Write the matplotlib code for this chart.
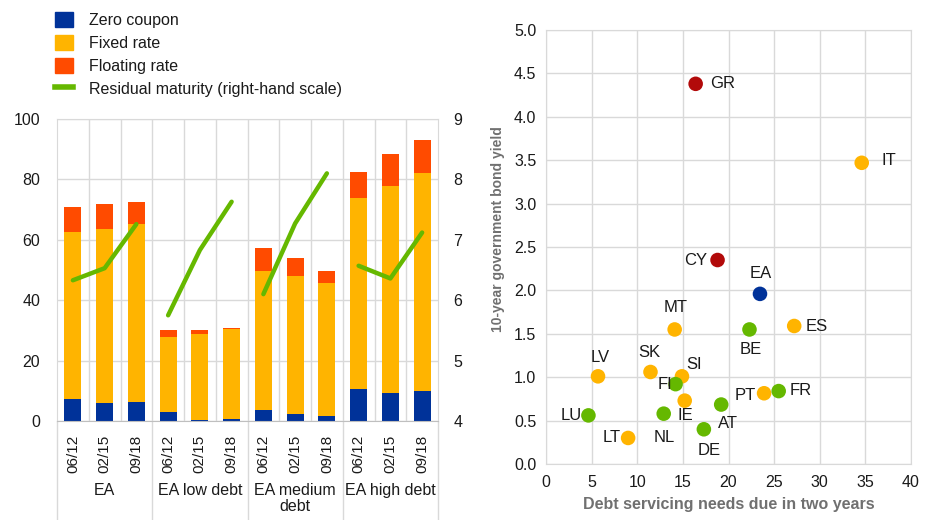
import matplotlib
matplotlib.use("Agg")
import matplotlib.pyplot as plt
import matplotlib.transforms as mtransforms
from matplotlib.patches import Patch
from matplotlib.lines import Line2D

plt.rcParams['font.family'] = ['Liberation Sans', 'DejaVu Sans']

# ---------------- data: left panel ----------------
groups = ["EA", "EA low debt", "EA medium\ndebt", "EA high debt"]
periods = ["06/12", "02/15", "09/18"]
zero_coupon = [7.3, 6.0, 6.2, 3.0, 0.3, 0.8, 3.5, 2.3, 1.8, 10.5, 9.4, 10.0]
fixed_rate = [55.3, 57.6, 59.0, 24.9, 28.6, 29.7, 46.2, 45.8, 44.0, 63.2, 68.3, 72.2]
floating_rate = [8.2, 8.3, 7.2, 2.1, 1.1, 0.2, 7.5, 5.8, 3.8, 8.9, 10.7, 10.8]
residual_maturity = [6.33, 6.53, 7.26, 5.75, 6.83, 7.63, 6.10, 7.27, 8.10, 6.57, 6.36, 7.12]

# ---------------- data: right panel ----------------
countries = ["GR", "IT", "CY", "EA", "MT", "BE", "ES", "LV", "SK", "SI", "FI",
             "IE", "NL", "PT", "FR", "AT", "LU", "DE", "LT"]
debt_service = [16.4, 34.6, 18.8, 23.45, 14.1, 22.3, 27.2, 5.7, 11.45, 14.9, 14.2,
                15.2, 12.9, 23.9, 25.5, 19.2, 4.65, 17.3, 9.0]
bond_yield = [4.38, 3.47, 2.35, 1.96, 1.55, 1.55, 1.59, 1.01, 1.06, 1.01, 0.92,
              0.73, 0.58, 0.815, 0.84, 0.685, 0.56, 0.40, 0.30]
country_group = ["red", "orange", "red", "blue", "orange", "green", "orange", "orange",
                 "orange", "orange", "green", "orange", "green", "orange", "green",
                 "green", "green", "green", "orange"]

BLUE = "#003299"
YELLOW = "#FFB400"
ORANGE = "#FF4B00"
GREEN = "#65B800"
RED = "#B20A0A"
GRID = "#D9D9D9"
TXT = "#1a1a1a"
palette = {"red": RED, "orange": YELLOW, "green": GREEN, "blue": BLUE}

# label placement (pixel offsets, ha, va)
label_pos = {
    "GR": (14, 0, "left", "center"), "IT": (20, 2, "left", "center"),
    "CY": (-10, 0, "right", "center"), "EA": (1, 20, "center", "center"),
    "MT": (1, 22, "center", "center"), "BE": (1, -20, "center", "center"),
    "ES": (11, -1, "left", "center"), "LV": (2, 19, "center", "center"),
    "SK": (-1, 19, "center", "center"), "SI": (12, 12, "center", "center"),
    "FI": (-3, 0, "right", "center"), "IE": (1, -15, "center", "center"),
    "NL": (1, -24, "center", "center"), "PT": (-8, -2, "right", "center"),
    "FR": (11, 1, "left", "center"), "AT": (7, -19, "center", "center"),
    "LU": (-7, 0, "right", "center"), "DE": (5, -21, "center", "center"),
    "LT": (-7, 0, "right", "center"),
}

W, H = 925, 520
fig = plt.figure(figsize=(W / 100, H / 100), dpi=100)

# ================= left panel =================
ax = fig.add_axes([57 / W, 1 - 421 / H, (438 - 57) / W, (421 - 119) / H])
n = len(zero_coupon)
x = list(range(n))
bw = 0.54
bottom2 = [a + b for a, b in zip(zero_coupon, fixed_rate)]
ax.bar(x, zero_coupon, bw, color=BLUE, zorder=2)
ax.bar(x, fixed_rate, bw, bottom=zero_coupon, color=YELLOW, zorder=2)
ax.bar(x, floating_rate, bw, bottom=bottom2, color=ORANGE, zorder=2)
ax.set_xlim(-0.5, n - 0.5)
ax.set_ylim(0, 100)
ax.set_yticks(range(0, 101, 20))
ax.set_xticks(x)
ax.set_xticklabels(periods * len(groups), rotation=90, fontsize=11, color=TXT)
ax.set_xticks([i + 0.5 for i in range(n - 1)], minor=True)
ax.tick_params(axis='x', which='both', length=0, pad=10)
ax.tick_params(axis='y', length=0, labelsize=11.5, colors=TXT, pad=12)
ax.grid(axis='y', color=GRID, lw=1, zorder=0)
ax.grid(axis='x', which='minor', color=GRID, lw=1, zorder=0)
for s in ["top", "right", "left"]:
    ax.spines[s].set_color(GRID)
ax.spines["bottom"].set_color("#BFBFBF")

trans = mtransforms.blended_transform_factory(ax.transData, ax.transAxes)
depth = (520 - 421) / (421 - 119)
for k in range(len(groups) + 1):
    xb = k * 3 - 0.5
    ax.plot([xb, xb], [0, -depth], transform=trans, color=GRID, lw=1, clip_on=False)
for k, g in enumerate(groups):
    ax.text(k * 3 + 1, -(483 - 421) / 302, g, transform=trans, ha="center", va="top",
            fontsize=11.5, color=TXT, linespacing=1.05)

ax2 = ax.twinx()
ax2.set_position(ax.get_position())
for gi in range(len(groups)):
    sl = slice(gi * 3, gi * 3 + 3)
    ax2.plot(x[sl], residual_maturity[sl], color=GREEN, lw=3.2, solid_capstyle="round", zorder=3)
ax2.set_ylim(4, 9)
ax2.set_yticks(range(4, 10))
ax2.tick_params(axis='y', length=0, labelsize=11.5, colors=TXT, pad=11)
for s in ax2.spines.values():
    s.set_visible(False)

handles = [Patch(color=BLUE), Patch(color=YELLOW), Patch(color=ORANGE),
           Line2D([0], [0], color=GREEN, lw=4)]
labels = ["Zero coupon", "Fixed rate", "Floating rate", "Residual maturity (right-hand scale)"]
fig.legend(handles, labels, loc="upper left", bbox_to_anchor=(49 / W, 1 - 6 / H),
           frameon=False, fontsize=11.5, handlelength=1.1, handleheight=1.05,
           handletextpad=1.0, labelspacing=0.44, borderaxespad=0, labelcolor=TXT)

# ================= right panel =================
bx = fig.add_axes([546 / W, 1 - 464 / H, (911 - 546) / W, (464 - 30) / H])
cols = [palette[c] for c in country_group]
bx.scatter(debt_service, bond_yield, s=110, c=cols, zorder=3, linewidths=0)
for name, xv, yv in zip(countries, debt_service, bond_yield):
    dx, dy, ha, va = label_pos[name]
    bx.annotate(name, (xv, yv), xytext=(dx * 0.72, dy * 0.72), textcoords="offset points",
                ha=ha, va=va, fontsize=12, color=TXT)
bx.set_xlim(0, 40)
bx.set_ylim(0, 5)
bx.set_xticks(range(0, 41, 5))
bx.set_yticks([i * 0.5 for i in range(11)])
bx.set_yticklabels([f"{i * 0.5:.1f}" for i in range(11)])
bx.tick_params(length=0, labelsize=11.5, colors=TXT)
bx.tick_params(axis='y', pad=7)
bx.tick_params(axis='x', pad=8)
bx.grid(True, color=GRID, lw=1, zorder=0)
for s in bx.spines.values():
    s.set_color(GRID)
bx.set_xlabel("Debt servicing needs due in two years", fontsize=11.5, fontweight="bold",
              color="#707070", labelpad=5)
bx.set_ylabel("10-year government bond yield", fontsize=10, fontweight="bold",
              color="#707070")
bx.yaxis.set_label_coords(-(546 - 505) / (911 - 546), (464 - 229) / (464 - 30))

fig.savefig("out.png", dpi=100)
